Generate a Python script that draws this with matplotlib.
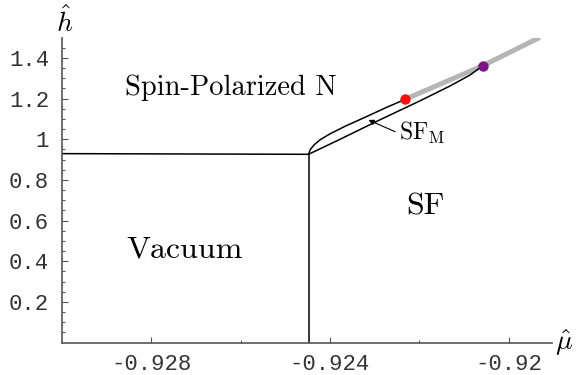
import matplotlib
matplotlib.use('Agg')
import matplotlib.pyplot as plt

plt.rcParams['mathtext.fontset'] = 'cm'

# phase boundaries (mu_hat, h_hat)
vac_mu = [-0.93, -0.924478]
vac_h = [0.929, 0.9257]
sf_mu = [-0.924478, -0.924478]
sf_h = [0.0, 0.9257]

# upper branch of SF_M region, triple point -> red point
up_mu = [-0.924478, -0.924441, -0.924351, -0.924217, -0.923993, -0.923658,
         -0.923211, -0.922764, -0.922317]
up_h = [0.9257, 0.9483, 0.9729, 0.9975, 1.0270, 1.0639, 1.1082, 1.1534, 1.1963]

# lower branch, triple point -> purple point
lo_mu = [-0.924478, -0.923770, -0.922876, -0.921982, -0.921312, -0.920865, -0.920581]
lo_h = [0.9257, 1.0000, 1.0960, 1.1890, 1.2620, 1.3158, 1.3615]

# grey line (first order)
gr_mu = [-0.922317, -0.920581, -0.919339]
gr_h = [1.1963, 1.3615, 1.497]

red_pt = (-0.922317, 1.1963)
purple_pt = (-0.920581, 1.3615)

x_ticks = [-0.928, -0.924, -0.92]
x_ticklabels = ['-0.928', '-0.924', '-0.92']
x_minor = [-0.926, -0.922]
y_ticks = [0.2, 0.4, 0.6, 0.8, 1.0, 1.2, 1.4]
y_ticklabels = ['0.2', '0.4', '0.6', '0.8', '1', '1.2', '1.4']
y_minor = [0.05 * i for i in range(1, 30)]

fig = plt.figure(figsize=(5.77, 3.75), dpi=100)
ax = fig.add_axes([61.7 / 577, 32.5 / 375, 490 / 577, 304.5 / 375])

ax.plot(vac_mu, vac_h, color='k', lw=1.1)
ax.plot(sf_mu, sf_h, color='k', lw=1.1)
ax.plot(gr_mu, gr_h, color='#b5b5b5', lw=3.6, solid_capstyle='round', zorder=2)
ax.plot(up_mu, up_h, color='k', lw=1.1, zorder=3)
ax.plot(lo_mu, lo_h, color='k', lw=1.1, zorder=3)
ax.plot(*red_pt, 'o', color='#ff1010', ms=7.5, mec='none', zorder=4)
ax.plot(*purple_pt, 'o', color='#7a1585', ms=7.5, mec='none', zorder=4)

# region labels
lab = dict(family='cmr10', ha='center', va='center')
ax.text(-0.926206, 1.252, 'Spin-Polarized N', fontsize=20.5, **lab)
ax.text(-0.927240, 0.455, 'Vacuum', fontsize=23, **lab)
ax.text(-0.92187, 0.666, 'SF', fontsize=23, **lab)
ax.text(-0.922445, 1.030, r'$\mathrm{SF}_\mathrm{M}$', fontsize=17, ha='left', va='center')
ax.annotate('', xy=(-0.923137, 1.0944), xytext=(-0.922541, 1.037),
            arrowprops=dict(arrowstyle='-|>', color='k', lw=0.8, mutation_scale=8,
                            shrinkA=0, shrinkB=0))

ax.set_xlim(-0.93, -0.919039)
ax.set_ylim(0, 1.4978)

for s in ['top', 'right']:
    ax.spines[s].set_visible(False)
for s in ['left', 'bottom']:
    ax.spines[s].set_color('#555555')
    ax.spines[s].set_linewidth(1.2)

ax.set_xticks(x_ticks)
ax.set_xticklabels(x_ticklabels)
ax.set_xticks(x_minor, minor=True)
ax.set_yticks(y_ticks)
ax.set_yticklabels(y_ticklabels)
ax.set_yticks(y_minor, minor=True)
ax.tick_params(which='both', direction='in', color='#555555', width=0.8)
ax.tick_params(which='major', length=4)
ax.tick_params(which='minor', length=2.5)
ax.tick_params(axis='x', pad=8)
ax.tick_params(axis='y', pad=9)
for t in ax.get_xticklabels() + ax.get_yticklabels():
    t.set_family('Liberation Mono')
    t.set_fontsize(16)
    t.set_color('#333333')

ax.text(0.005, 1.0, r'$\hat{h}$', transform=ax.transAxes, fontsize=20,
        ha='center', va='bottom')
ax.text(1.007, 0.0, r'$\hat{\mu}$', transform=ax.transAxes, fontsize=20,
        ha='left', va='center')

plt.savefig('out.png', dpi=100)
